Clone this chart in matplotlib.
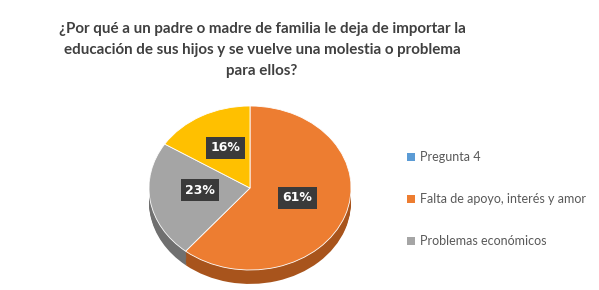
import matplotlib.pyplot as plt

labels = ["Pregunta 4", "Falta de apoyo, interés y amor", "Problemas económicos", ""]
values = [0, 61, 23, 16]
top_colors = ["#5B9BD5", "#ED7D31", "#A5A5A5", "#FFC000"]
side_colors = ["#3F6E99", "#A8541C", "#707070", "#B38700"]
title = ("¿Por qué a un padre o madre de familia le deja de importar la\n"
         "educación de sus hijos y se vuelve una molestia o problema\n"
         "para ellos?")

W, H = 599, 290
fig = plt.figure(figsize=(W / 100, H / 100), dpi=100)
fig.patch.set_facecolor("white")

# ejes en pixeles: x 140..360, y 100..290 (desde arriba)
ax = fig.add_axes([140 / W, 0 / H, 220 / W, 190 / H])
ax.set_axis_off()

depth = 0.17
n = 12
for i in range(n, 0, -1):
    off = depth * i / n
    ax.pie(values, colors=side_colors, startangle=90, counterclock=False,
           center=(0, -off), radius=1, wedgeprops=dict(linewidth=0))

def fmt(p):
    return f"{p:.0f}%" if p > 0.5 else ""

wedges, texts, autotexts = ax.pie(values, colors=top_colors, startangle=90, counterclock=False,
                                  center=(0, 0), radius=1, autopct=fmt, pctdistance=0.5,
                                  wedgeprops=dict(linewidth=0.6, edgecolor="white"),
                                  textprops=dict(color="white", fontsize=9, fontweight="bold"))
for t in autotexts:
    t.set_bbox(dict(boxstyle="square,pad=0.35", facecolor="#3A3A3A", edgecolor="none"))
    x, y = t.get_position()
    t.set_position((x, y + 0.05))

ax.set_aspect("auto")
ax.set_xlim(-110 / 101, 110 / 101)
ax.set_ylim(-102 / 82, 88 / 82)

fig.text(262 / W, 1 - 50 / H, title, ha="center", va="center", fontsize=10.9,
         fontweight="bold", color="#404040", linespacing=1.6, family="Lato")

leg = fig.legend(wedges[:3], labels[:3], loc="upper left", bbox_to_anchor=(396 / W, 1 - 140 / H),
                 frameon=False, labelspacing=2.4, handlelength=0.65,
                 handleheight=0.65, handletextpad=0.35, labelcolor="#595959",
                 prop=dict(family="Lato", size=9))
for h in leg.legend_handles:
    h.set_edgecolor("none")

fig.savefig("out.png", dpi=100, facecolor="white")
